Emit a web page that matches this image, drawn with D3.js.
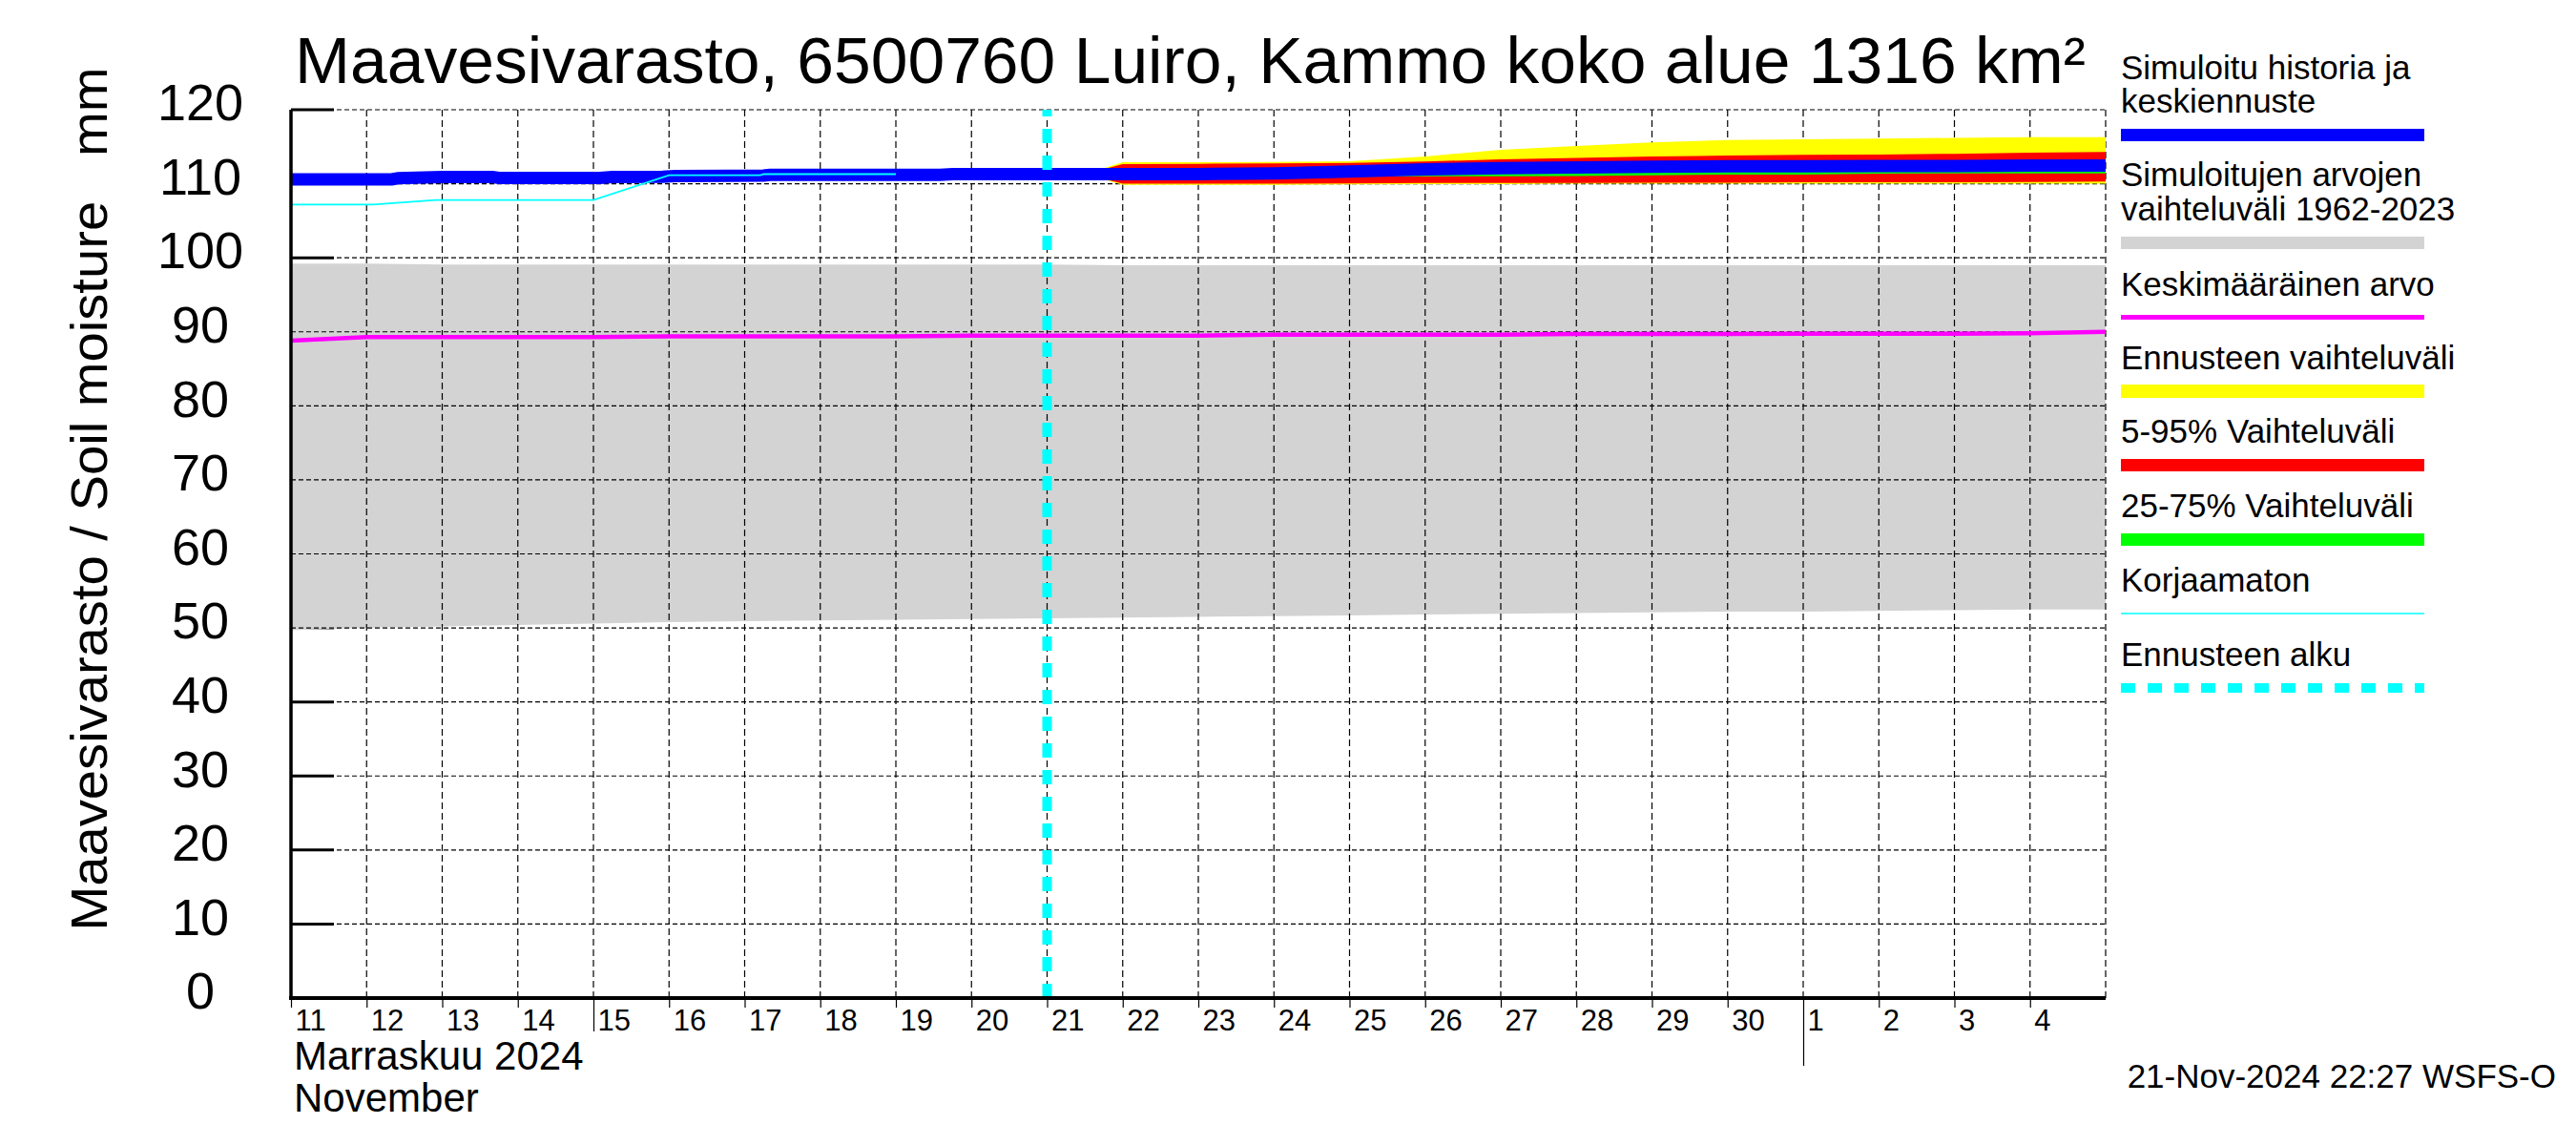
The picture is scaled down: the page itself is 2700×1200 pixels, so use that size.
<!DOCTYPE html>
<html>
<head>
<meta charset="utf-8">
<script src="https://cdn.jsdelivr.net/npm/d3@7"></script>
<style>
  body { margin: 0; background: #fff; }
  svg { display: block; }
  text { font-family: "Liberation Sans", Arial, Helvetica, sans-serif; fill: #000; }
</style>
</head>
<body>
<svg id="chart" width="2700" height="1200"></svg>
<script>
// ---- data ----
const titleText = 'Maavesivarasto, 6500760 Luiro, Kammo koko alue 1316 km²';
const yTitle = 'Maavesivarasto / Soil moisture   mm';
const yTicks = [0, 10, 20, 30, 40, 50, 60, 70, 80, 90, 100, 110, 120];
const monthLabels = ['Marraskuu 2024', 'November'];
const stamp = '21-Nov-2024 22:27 WSFS-O';
const forecastStart = '2024-11-21 00:00';

// daily values Nov 11 .. Dec 5
const rangeMax = [99.2, 99.2, 99.1, 99.1, 99.1, 99.1, 99.1, 99.1, 99.1, 99.1, 99.1, 99.0, 99.0,
  99.0, 99.0, 99.0, 99.0, 99.0, 99.0, 99.0, 99.0, 99.0, 99.0, 99.0, 99.0];
const rangeMin = [49.7, 50.0, 50.2, 50.4, 50.6, 50.8, 50.9, 51.0, 51.1, 51.2, 51.3, 51.4, 51.5,
  51.6, 51.7, 51.8, 51.9, 52.0, 52.1, 52.2, 52.2, 52.3, 52.4, 52.5, 52.5];
const meanValues = [88.8, 89.3, 89.3, 89.3, 89.3, 89.4, 89.4, 89.4, 89.4, 89.5, 89.5, 89.5, 89.5,
  89.6, 89.6, 89.6, 89.6, 89.7, 89.7, 89.7, 89.75, 89.75, 89.75, 89.8, 90.0];

const simHistory = [
  ['2024-11-11 00:00', 110.6], ['2024-11-12 08:00', 110.6], ['2024-11-12 10:00', 110.75],
  ['2024-11-13 00:00', 110.9], ['2024-11-13 16:00', 110.9], ['2024-11-13 18:00', 110.8],
  ['2024-11-15 02:00', 110.8], ['2024-11-15 06:00', 110.9], ['2024-11-15 22:00', 110.95],
  ['2024-11-16 02:00', 111.05], ['2024-11-17 06:00', 111.1], ['2024-11-17 08:00', 111.2],
  ['2024-11-19 14:00', 111.2], ['2024-11-19 18:00', 111.3], ['2024-11-21 00:00', 111.3]
];
const uncorrected = [
  ['2024-11-11 00:00', 107.2], ['2024-11-12 02:00', 107.2], ['2024-11-12 22:00', 107.8],
  ['2024-11-15 00:00', 107.8], ['2024-11-16 00:00', 111.15], ['2024-11-17 05:00', 111.15],
  ['2024-11-17 06:00', 111.3], ['2024-11-19 00:00', 111.3]
];

const fcDates = ['2024-11-21 00:00', '2024-11-21 12:00', '2024-11-22 00:00', '2024-11-23 00:00',
  '2024-11-24 00:00', '2024-11-25 00:00', '2024-11-26 00:00', '2024-11-27 00:00',
  '2024-11-28 00:00', '2024-11-29 00:00', '2024-11-30 00:00', '2024-12-01 00:00',
  '2024-12-02 00:00', '2024-12-03 00:00', '2024-12-04 00:00', '2024-12-05 00:00'];
const fcMedian = [111.3, 111.3, 111.3, 111.3, 111.4, 111.65, 111.95, 112.1, 112.2, 112.3, 112.35,
  112.35, 112.4, 112.4, 112.45, 112.45];
const fcMax = [111.3, 111.3, 112.9, 112.9, 112.95, 113.05, 113.7, 114.6, 115.1, 115.6, 115.9,
  116.0, 116.1, 116.2, 116.3, 116.3];
const fcMin = [111.3, 111.3, 109.85, 109.85, 109.85, 109.9, 109.95, 109.95, 110.0, 110.0, 110.0,
  110.0, 110.0, 110.0, 110.0, 110.0];
const fc95 = [111.3, 111.3, 112.65, 112.7, 112.75, 112.8, 113.0, 113.3, 113.5, 113.7, 113.8,
  113.9, 113.95, 114.05, 114.2, 114.3];
const fc5 = [111.3, 111.3, 110.0, 110.0, 110.0, 110.05, 110.1, 110.1, 110.1, 110.15, 110.15,
  110.2, 110.2, 110.2, 110.25, 110.3];
const fc75 = [111.3, 111.3, 111.6, 111.7, 111.8, 112.0, 112.2, 112.4, 112.5, 112.6, 112.7,
  112.75, 112.8, 112.8, 112.85, 112.9];
const fc25 = [111.3, 111.3, 111.05, 111.05, 111.0, 110.95, 111.0, 111.0, 111.05, 111.15, 111.25,
  111.25, 111.35, 111.4, 111.4, 111.4];

const legendItems = [
  { lines: ['Simuloitu historia ja', 'keskiennuste'], color: '#0000ff', width: 13 },
  { lines: ['Simuloitujen arvojen', 'vaihteluväli 1962-2023'], color: '#d3d3d3', width: 13 },
  { lines: ['Keskimääräinen arvo'], color: '#ff00ff', width: 5 },
  { lines: ['Ennusteen vaihteluväli'], color: '#ffff00', width: 14 },
  { lines: ['5-95% Vaihteluväli'], color: '#ff0000', width: 13 },
  { lines: ['25-75% Vaihteluväli'], color: '#00ff00', width: 13 },
  { lines: ['Korjaamaton'], color: '#00ffff', width: 1.5 },
  { lines: ['Ennusteen alku'], color: '#00ffff', width: 10, dash: '15,13' }
];

// ---- setup ----
const parse = d3.utcParse('%Y-%m-%d %H:%M');
const svg = d3.select('#chart');
const plotLeft = 305, plotRight = 2207, plotTop = 115, plotBottom = 1046;
const start = parse('2024-11-11 00:00');
const end = parse('2024-12-05 00:00');
const x = d3.scaleUtc().domain([start, end]).range([plotLeft, plotRight]);
const y = d3.scaleLinear().domain([0, 120]).range([plotBottom, plotTop]);
const days = d3.utcDay.range(start, d3.utcDay.offset(end, 1));

const daily = days.map((t, i) => ({ t, lo: rangeMin[i], hi: rangeMax[i], m: meanValues[i] }));
const fc = fcDates.map((s, i) => ({
  t: parse(s), med: fcMedian[i], min: fcMin[i], max: fcMax[i],
  p5: fc5[i], p95: fc95[i], p25: fc25[i], p75: fc75[i]
}));
const blue = simHistory.map(d => ({ t: parse(d[0]), v: d[1] }))
  .concat(fc.slice(1).map(d => ({ t: d.t, v: d.med })));
const cyan = uncorrected.map(d => ({ t: parse(d[0]), v: d[1] }));

// y tick marks (under the grey band)
svg.append('g').selectAll('line')
  .data(yTicks.filter(v => v > 0)).enter()
  .append('line')
  .attr('x1', plotLeft).attr('x2', plotLeft + 45)
  .attr('y1', d => y(d)).attr('y2', d => y(d))
  .attr('stroke', '#000').attr('stroke-width', 3);

// grey historical range
svg.append('path')
  .datum(daily)
  .attr('fill', '#d3d3d3')
  .attr('d', d3.area().x(d => x(d.t)).y0(d => y(d.lo)).y1(d => y(d.hi)));

// grid
const grid = svg.append('g');
grid.selectAll('line.h')
  .data(yTicks.filter(v => v > 0)).enter()
  .append('line')
  .attr('x1', plotLeft).attr('x2', plotRight)
  .attr('y1', d => y(d)).attr('y2', d => y(d))
  .attr('stroke', '#000').attr('stroke-width', 1.2)
  .attr('stroke-dasharray', '5,3');
grid.selectAll('line.v')
  .data(days.slice(1)).enter()
  .append('line')
  .attr('x1', d => x(d)).attr('x2', d => x(d))
  .attr('y1', plotTop).attr('y2', plotBottom)
  .attr('stroke', '#000').attr('stroke-width', 1.2)
  .attr('stroke-dasharray', '7,4');

// mean
svg.append('path')
  .datum(daily)
  .attr('fill', 'none').attr('stroke', '#ff00ff').attr('stroke-width', 4.5)
  .attr('d', d3.line().x(d => x(d.t)).y(d => y(d.m)));

// forecast bands
const band = (lo, hi, col) => svg.append('path')
  .datum(fc)
  .attr('fill', col)
  .attr('d', d3.area().x(d => x(d.t)).y0(d => y(d[lo])).y1(d => y(d[hi])));
band('min', 'max', '#ffff00');
band('p5', 'p95', '#ff0000');
band('p25', 'p75', '#00ff00');

// simulated history + median forecast
svg.append('path')
  .datum(blue)
  .attr('fill', 'none').attr('stroke', '#0000ff').attr('stroke-width', 13)
  .attr('d', d3.line().x(d => x(d.t)).y(d => y(d.v)));

// uncorrected
svg.append('path')
  .datum(cyan)
  .attr('fill', 'none').attr('stroke', '#00ffff').attr('stroke-width', 1.8)
  .attr('d', d3.line().x(d => x(d.t)).y(d => y(d.v)));

// forecast start
const fx = x(parse(forecastStart));
svg.append('line')
  .attr('x1', fx).attr('x2', fx).attr('y1', plotBottom).attr('y2', plotTop)
  .attr('stroke', '#00ffff').attr('stroke-width', 10)
  .attr('stroke-dasharray', '15,13');

// axes lines
svg.append('line').attr('x1', plotLeft).attr('x2', plotLeft)
  .attr('y1', plotTop).attr('y2', plotBottom + 2)
  .attr('stroke', '#000').attr('stroke-width', 3.5);
svg.append('line').attr('x1', plotLeft - 2).attr('x2', plotRight)
  .attr('y1', plotBottom).attr('y2', plotBottom)
  .attr('stroke', '#000').attr('stroke-width', 4);

// y labels
const yAxis = svg.append('g')
  .attr('transform', `translate(${plotLeft},0)`)
  .call(d3.axisLeft(y).tickValues(yTicks).tickSize(0).tickFormat(d3.format('d')));
yAxis.select('.domain').remove();
yAxis.selectAll('text')
  .attr('x', 210 - plotLeft).attr('dy', '0.2em')
  .attr('text-anchor', 'middle')
  .style('font-size', '54px')
  .style('font-family', '"Liberation Sans", Arial, sans-serif');

// x labels
const xAxis = svg.append('g')
  .attr('transform', `translate(0,${plotBottom})`)
  .call(d3.axisBottom(x).tickValues(days.slice(0, -1)).tickSize(10)
    .tickFormat(d3.utcFormat('%-d')));
xAxis.select('.domain').remove();
xAxis.selectAll('.tick line').attr('stroke', '#000').attr('stroke-width', 1.2)
  .attr('y2', d => (d.getUTCDate() === 15 ? 35 : (d.getUTCDate() === 1 ? 71 : 10)));
xAxis.selectAll('text')
  .attr('x', 4).attr('y', 34).attr('dy', 0)
  .attr('text-anchor', 'start')
  .style('font-size', '31px')
  .style('font-family', '"Liberation Sans", Arial, sans-serif');

monthLabels.forEach((t, i) => {
  svg.append('text').attr('x', 308).attr('y', 1121 + i * 44)
    .style('font-size', '42px').text(t);
});

// title
svg.append('text').attr('x', 309).attr('y', 87)
  .attr('textLength', 1877).attr('lengthAdjust', 'spacingAndGlyphs')
  .style('font-size', '68px').text(titleText);

// y title
svg.append('text')
  .attr('transform', 'translate(112,523) rotate(-90)')
  .attr('text-anchor', 'middle')
  .attr('textLength', 905).attr('lengthAdjust', 'spacingAndGlyphs')
  .style('font-size', '54px').style('white-space', 'pre')
  .text(yTitle);

// timestamp
svg.append('text').attr('x', 2679).attr('y', 1140).attr('text-anchor', 'end')
  .style('font-size', '35px').text(stamp);

// legend
const legTextY = [[83, 118], [195, 231], [310], [387], [464], [542], [620], [698]];
const legBarY = [141.5, 254.5, 332.5, 410, 487.5, 565.5, 643, 721];
const leg = svg.append('g');
legendItems.forEach((it, i) => {
  it.lines.forEach((ln, j) => {
    leg.append('text').attr('x', 2223).attr('y', legTextY[i][j])
      .style('font-size', '35px').text(ln);
  });
  leg.append('line')
    .attr('x1', 2223).attr('x2', 2541)
    .attr('y1', legBarY[i]).attr('y2', legBarY[i])
    .attr('stroke', it.color).attr('stroke-width', it.width)
    .attr('stroke-dasharray', it.dash || null);
});
</script>
</body>
</html>
